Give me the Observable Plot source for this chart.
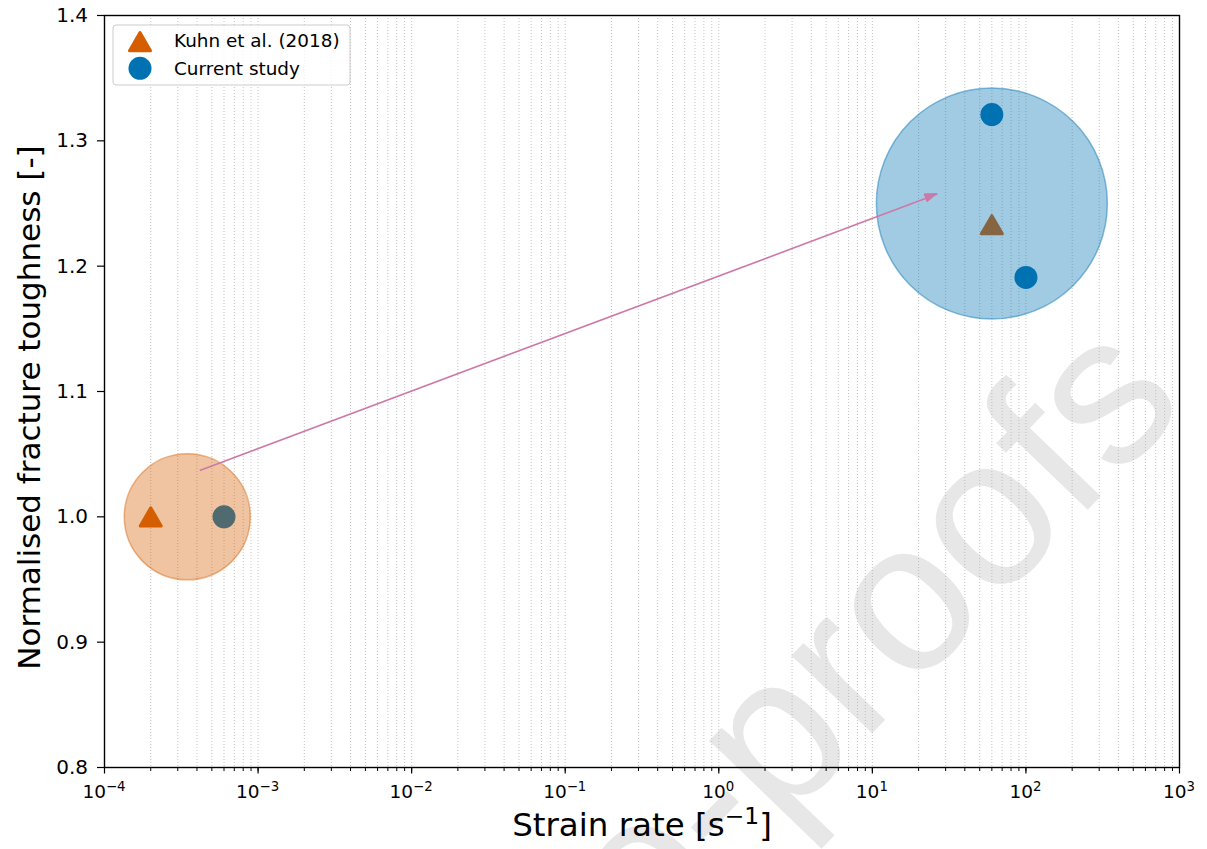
<!DOCTYPE html>
<html><head><meta charset="utf-8">
<script src="https://cdn.jsdelivr.net/npm/d3@7"></script>
<script src="https://cdn.jsdelivr.net/npm/@observablehq/plot@0.6"></script>
<style>
html,body{margin:0;padding:0;background:#fff;overflow:hidden;}
#chart{position:relative;width:1207px;height:849px;}
</style></head><body><div id="chart"></div>
<script>
// ---- data ----
const seriesNames = ["Kuhn et al. (2018)", "Current study"];
const kuhnRate = [2e-4, 60];
const kuhnToughness = [1.0, 1.233];
const studyRate = [6e-4, 60, 100];
const studyToughness = [1.0, 1.321, 1.191];
const groupRate = [3.46e-4, 60];
const groupToughness = [1.0, 1.25];
const arrowFrom = [4.17e-4, 1.037];
const arrowTo = [26.5, 1.2575];
const xTicks = [1e-4, 1e-3, 1e-2, 1e-1, 1e0, 1e1, 1e2, 1e3];
const xTickBase = "10";
const xTickExponents = ["−4", "−3", "−2", "−1", "0", "1", "2", "3"];
const yTicks = [0.8, 0.9, 1.0, 1.1, 1.2, 1.3, 1.4];
const xLabelParts = ["Strain rate [s", "−1", "]"];
const yLabel = "Normalised fracture toughness [-]";
const watermark = "Journal Pre-proofs";

// ---- derived tables ----
const orange = "#D55E00", blue = "#0072B2", pink = "#CC79A7";
const kuhn = kuhnRate.map((x, i) => ({x, y: kuhnToughness[i]}));
const study = studyRate.map((x, i) => ({x, y: studyToughness[i]}));
const groups = groupRate.map((x, i) => ({x, y: groupToughness[i]}));
const minorTicks = [];
xTicks.slice(0, -1).forEach(d => { for (let m = 1; m <= 9; m++) minorTicks.push(m * d); });
const gridTicks = minorTicks.concat([xTicks[xTicks.length - 1]]);
const arrow = [{x1: arrowFrom[0], y1: arrowFrom[1], x2: arrowTo[0], y2: arrowTo[1]}];
const SEP = "\u2063";

const circleStyle = (c) => ({fill: c, fillOpacity: 0.37, stroke: c, strokeOpacity: 0.45, strokeWidth: 1.5});

const plot = Plot.plot({
  width: 1207, height: 849,
  marginLeft: 104, marginRight: 28, marginTop: 15, marginBottom: 82,
  style: {fontFamily: "DejaVu Sans", background: "transparent", color: "#000", overflow: "hidden"},
  x: {type: "log", domain: [1e-4, 1e3]},
  y: {domain: [0.8, 1.4]},
  marks: [
    Plot.text([watermark], {frameAnchor: "top-left", dx: 1036, dy: 342, rotate: -46, textAnchor: "end",
      lineAnchor: "middle", fontSize: 212, fontFamily: "Liberation Sans", fill: "#e7e7e7", text: d => d}),
    Plot.ruleX(gridTicks, {stroke: "#b3b3b3", strokeWidth: 0.8, strokeDasharray: "1,2"}),
    Plot.dot(kuhn, {x: "x", y: "y", symbol: "triangle", r: 7.8, fill: orange, stroke: orange,
      strokeWidth: 3, strokeLinejoin: "round", dy: 3}),
    Plot.dot(study, {x: "x", y: "y", r: 11.5, fill: blue}),
    Plot.dot([groups[0]], {x: "x", y: "y", r: 63, ...circleStyle(orange)}),
    Plot.dot([groups[1]], {x: "x", y: "y", r: 115.5, ...circleStyle(blue)}),
    Plot.link(arrow, {x1: "x1", y1: "y1", x2: "x2", y2: "y2", stroke: pink, strokeWidth: 1.6}),
    Plot.axisX(minorTicks, {tickSize: 4, tickFormat: () => "", label: null, strokeWidth: 1}),
    Plot.axisX(xTicks, {tickSize: 6.5, tickFormat: () => "", label: null, strokeWidth: 1.2}),
    Plot.axisY(yTicks, {tickSize: 7, tickFormat: () => "", label: null, strokeWidth: 1.2}),
    Plot.frame({stroke: "#000", strokeWidth: 1.4}),
    Plot.text([xLabelParts.join(SEP)], {frameAnchor: "bottom", dy: 58, lineAnchor: "middle", fontSize: 32.5, text: d => d}),
    Plot.text([yLabel], {frameAnchor: "left", dx: -74, dy: 16, rotate: -90, lineAnchor: "middle",
      textAnchor: "middle", fontSize: 31, text: d => d})
  ]
});

const svg = d3.select(plot);
const sx = plot.scale("x"), sy = plot.scale("y");

// tick labels placed with the plot's own scales
{
  const gx = svg.append("g").attr("font-family", "DejaVu Sans").attr("font-size", 18.5)
    .attr("text-anchor", "middle").attr("fill", "#000");
  xTicks.forEach((d, i) => {
    gx.append("text").attr("x", sx.apply(d)).attr("y", 798)
      .text(xTickBase + SEP + xTickExponents[i]);
  });
  const gy = svg.append("g").attr("font-family", "DejaVu Sans").attr("font-size", 20)
    .attr("text-anchor", "end").attr("fill", "#000");
  yTicks.forEach(d => {
    gy.append("text").attr("x", 88).attr("y", sy.apply(d) + 7).text(d.toFixed(1));
  });
}

// turn the separator-marked texts into base + superscript tspans
svg.selectAll("text").each(function() {
  const t = this.textContent;
  if (!t.includes(SEP)) return;
  const parts = t.split(SEP);
  const el = d3.select(this);
  el.text(null);
  el.append("tspan").text(parts[0]);
  el.append("tspan").attr("font-size", "0.72em").attr("dy", "-0.5em").text(parts[1]);
  if (parts[2] !== undefined) el.append("tspan").attr("dy", "0.36em").text(parts[2]);
});

// arrow head (filled)
{
  const X1 = sx.apply(arrow[0].x1), Y1 = sy.apply(arrow[0].y1);
  const X2 = sx.apply(arrow[0].x2), Y2 = sy.apply(arrow[0].y2);
  const len = Math.hypot(X2 - X1, Y2 - Y1), ux = (X2 - X1) / len, uy = (Y2 - Y1) / len;
  const L = 12, W = 4.2;
  const bx = X2 - L * ux, by = Y2 - L * uy;
  svg.append("path")
    .attr("d", `M${X2},${Y2}L${bx - W * uy},${by + W * ux}L${bx + W * uy},${by - W * ux}Z`)
    .attr("fill", pink).attr("stroke", pink).attr("stroke-width", 1);
}

// legend
{
  const g = svg.append("g").attr("font-family", "DejaVu Sans").attr("font-size", 18.4).attr("text-anchor", "start");
  g.append("rect").attr("x", 113).attr("y", 25).attr("width", 237).attr("height", 60).attr("rx", 3)
    .attr("fill", "#fff").attr("fill-opacity", 0.8).attr("stroke", "#cccccc").attr("stroke-width", 1);
  const tri = d3.symbol(d3.symbolTriangle, Math.PI * 7.8 * 7.8)();
  g.append("path").attr("d", tri).attr("transform", "translate(140,44.7)")
    .attr("fill", orange).attr("stroke", orange).attr("stroke-width", 3).attr("stroke-linejoin", "round");
  g.append("circle").attr("cx", 140).attr("cy", 68.3).attr("r", 11.5).attr("fill", blue);
  g.append("text").attr("x", 174).attr("y", 46.5).text(seriesNames[0]);
  g.append("text").attr("x", 174).attr("y", 74.5).text(seriesNames[1]);
}

document.getElementById("chart").appendChild(plot);
</script></body></html>
